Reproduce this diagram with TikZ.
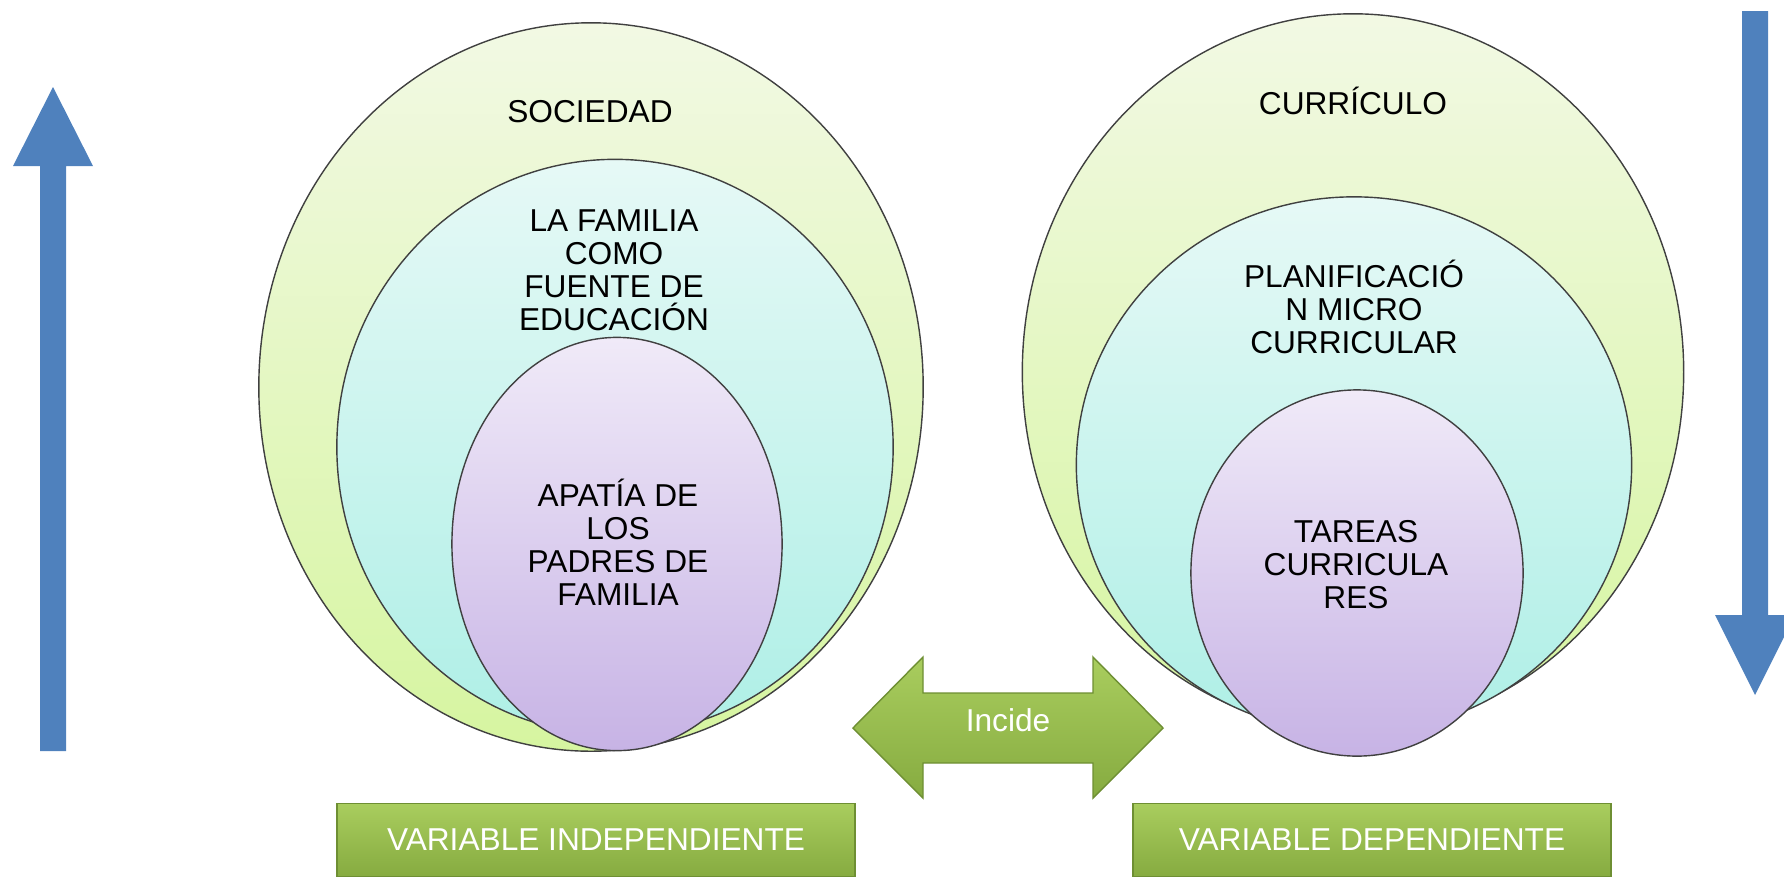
\documentclass[tikz,border=0pt]{standalone}
\usepackage{fontspec}
\setmainfont{Liberation Sans}
\usetikzlibrary{shapes.geometric}
\definecolor{pasto}{HTML}{F2F9E4}
\definecolor{pastobajo}{HTML}{D6F5A0}
\definecolor{agua}{HTML}{E6F9F6}
\definecolor{aguabajo}{HTML}{AEEFE6}
\definecolor{lila}{HTML}{F0EAF8}
\definecolor{lilabajo}{HTML}{C7B3E5}
\definecolor{barra}{HTML}{A9CD5E}
\definecolor{barrabajo}{HTML}{86AB40}
\definecolor{barraborde}{HTML}{6E8F33}
\definecolor{flecha}{HTML}{4F81BD}
\begin{document}
\begin{tikzpicture}[x=0.01cm,y=-0.01cm,
    anillo/.style={ellipse, draw=black!75, line width=0.4pt, inner sep=0pt},
    txt/.style={align=center, font=\fontsize{9}{9.4}\selectfont},
    barra/.style={rectangle, draw=barraborde, line width=0.5pt, top color=barra, bottom color=barrabajo,
        text=white, font=\fontsize{9}{9.4}\selectfont, minimum height=0.73cm, inner sep=0pt}]
\useasboundingbox (0,0) rectangle (1784,878);

% flechas azules
\fill[flecha](40,751)--(40,166)--(13,166)--(53,87)--(93,166)--(66,166)--(66,751)--cycle;
\fill[flecha](1742,11)--(1768,11)--(1768,615)--(1795,615)--(1755,695)--(1715,615)--(1742,615)--cycle;

% variable independiente
\node[anillo, top color=pasto, bottom color=pastobajo, minimum width=6.64cm, minimum height=7.28cm] (sociedad) at (591,387) {};
\node[anillo, top color=agua, bottom color=aguabajo, minimum width=5.56cm, minimum height=5.75cm] (familia) at (615,447) {};
\node[anillo, top color=lila, bottom color=lilabajo, minimum width=3.30cm, minimum height=4.13cm] (apatia) at (617,544) {};
\node[txt] (tsociedad) at (590,112) {SOCIEDAD};
\node[txt] (tfamilia) at (614,270) {LA FAMILIA\\COMO\\FUENTE DE\\EDUCACIÓN};
\node[txt] (tapatia) at (618,542) {APATÍA DE\\LOS\\PADRES DE\\FAMILIA};

% variable dependiente
\node[anillo, top color=pasto, bottom color=pastobajo, minimum width=6.61cm, minimum height=7.16cm] (curriculo) at (1353,372) {};
\node[anillo, top color=agua, bottom color=aguabajo, minimum width=5.55cm, minimum height=5.36cm] (planif) at (1354,465) {};
\node[anillo, top color=lila, bottom color=lilabajo, minimum width=3.32cm, minimum height=3.66cm] (tareas) at (1357,573) {};
\node[txt] (tcurriculo) at (1353,101) {CURRÍCULO};
\node[txt] (tplanif) at (1354,307) {PLANIFICACIÓ\\N MICRO\\CURRICULAR};
\node[txt] (ttareas) at (1356,565) {TAREAS\\CURRICULA\\RES};

% incide
\shade[top color=barra, bottom color=barrabajo, draw=barraborde, line width=0.4pt]
    (853,728)--(923,657)--(923,693)--(1093,693)--(1093,657)--(1163,728)
    --(1093,798)--(1093,763)--(923,763)--(923,798)--cycle;
\node[txt, text=white] (incide) at (1008,720) {Incide};

% etiquetas
\node[barra, minimum width=5.17cm] (indep) at (596,840) {VARIABLE INDEPENDIENTE};
\node[barra, minimum width=4.77cm] (dep) at (1372,840) {VARIABLE DEPENDIENTE};

\end{tikzpicture}
\end{document}
